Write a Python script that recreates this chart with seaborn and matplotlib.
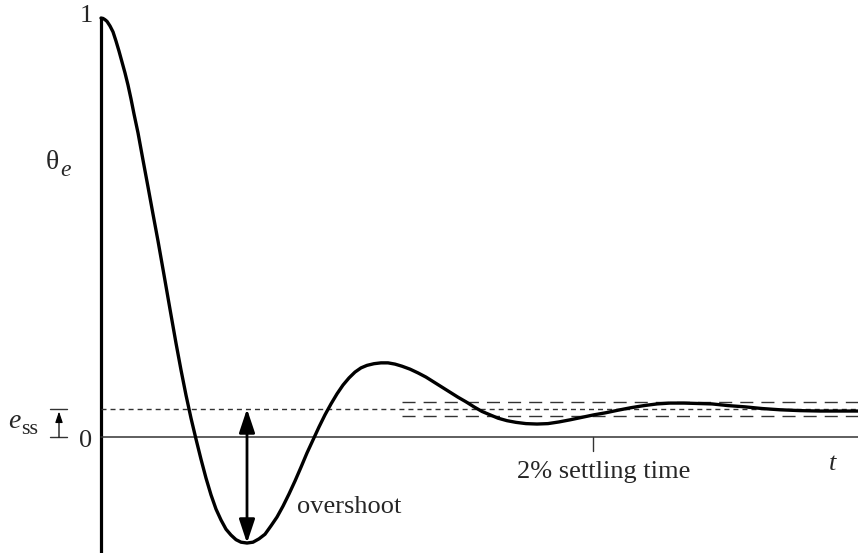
import numpy as np
import seaborn as sns
import matplotlib.pyplot as plt

# curve (t in arbitrary time units, theta_e normalised to 1 at t=0)
t = [0, 2, 4, 6, 9, 12, 15, 18, 21, 24,
     27, 30, 33, 37, 42, 47, 52, 57, 63, 69,
     75, 80, 85, 90, 95, 100, 105, 110, 115, 120,
     125, 130, 135, 140, 146, 152, 158, 164, 170, 176,
     182, 188, 194, 200, 206, 212, 218, 224, 230, 236,
     242, 248, 254, 260, 266, 273, 280, 287, 294, 301,
     309, 317, 325, 333, 341, 349, 357, 365, 373, 381,
     389, 397, 406, 415, 425, 436, 447, 458, 469, 481,
     493, 505, 517, 530, 543, 556, 569, 583, 597, 611,
     627, 644, 661, 679, 699, 719, 739, 757]
theta = [1.000, 0.999, 0.996, 0.992, 0.981, 0.967, 0.945, 0.921, 0.895, 0.869,
         0.840, 0.807, 0.771, 0.726, 0.661, 0.597, 0.532, 0.468, 0.387, 0.305,
         0.224, 0.160, 0.100, 0.045, -0.005, -0.053, -0.098, -0.138, -0.172, -0.198,
         -0.220, -0.234, -0.245, -0.251, -0.253, -0.251, -0.243, -0.232, -0.212, -0.191,
         -0.165, -0.136, -0.105, -0.072, -0.038, -0.007, 0.024, 0.053, 0.079, 0.103,
         0.124, 0.141, 0.155, 0.165, 0.171, 0.175, 0.177, 0.177, 0.174, 0.169,
         0.162, 0.153, 0.143, 0.131, 0.119, 0.107, 0.095, 0.084, 0.072, 0.061,
         0.053, 0.045, 0.039, 0.035, 0.032, 0.031, 0.032, 0.036, 0.041, 0.047,
         0.053, 0.058, 0.064, 0.070, 0.075, 0.079, 0.081, 0.081, 0.080, 0.079,
         0.075, 0.072, 0.068, 0.065, 0.063, 0.062, 0.062, 0.062]

e_ss = 0.067
band = 0.017
band_start = 301
t_settle = 492
t_min = 146
theta_min = -0.253

sns.set_style("white")
plt.rcParams['font.family'] = ['Liberation Serif', 'DejaVu Serif']

fig = plt.figure(figsize=(8.58, 5.53), dpi=100)
ax = fig.add_axes([0, 0, 1, 1])
ax.set_xlim(-101, 757)
ax.set_ylim(-0.2768, 1.043)
ax.axis('off')

# axes drawn by hand
ax.plot([0, 0], [1.0, -0.2768], color='k', lw=2.3, solid_capstyle='butt')
ax.plot([0, 757], [0, 0], color='#333333', lw=1.1)
ax.plot([t_settle, t_settle], [0, -0.034], color='#333333', lw=1.0)

# steady state error and 2% band
ax.plot([0, 757], [e_ss, e_ss], color='#333333', lw=1.0, dashes=(3.6, 2.9))
for lvl in (e_ss + band, e_ss - band):
    ax.plot([band_start, 757], [lvl, lvl], color='#333333', lw=1.0, dashes=(9.4, 5.8))

sns.lineplot(x=t, y=theta, ax=ax, color='k', lw=2.4)

# overshoot arrow
ax.annotate('', xy=(t_min, e_ss), xytext=(t_min, theta_min),
            arrowprops=dict(arrowstyle='<|-|>,head_length=0.72,head_width=0.24',
                            mutation_scale=20, lw=2, color='k',
                            shrinkA=0, shrinkB=0))
ax.text(196, -0.181, 'overshoot', fontsize=19, ha='left', va='baseline')

# e_ss bracket
for lvl in (0, e_ss):
    ax.plot([-51, -34], [lvl, lvl], color='#333333', lw=1.0)
ax.annotate('', xy=(-42, e_ss - 0.006), xytext=(-42, 0),
            arrowprops=dict(arrowstyle='-|>,head_length=0.65,head_width=0.22',
                            mutation_scale=10, lw=0.9, color='k',
                            shrinkA=0, shrinkB=0))
ax.text(-93, 0.0215, 'e', fontsize=20, style='italic', ha='left', va='baseline')
ax.text(-80, 0.007, 'ss', fontsize=16, ha='left', va='baseline')

# labels
ax.text(-8, 0.990, '1', fontsize=19, ha='right', va='baseline')
ax.text(-9, -0.024, '0', fontsize=19, ha='right', va='baseline')
ax.text(-55, 0.640, 'θ', fontsize=20, ha='left', va='baseline')
ax.text(-41, 0.623, 'e', fontsize=17, style='italic', ha='left', va='baseline')
ax.text(732, -0.079, 't', fontsize=19, style='italic', ha='center', va='baseline')
ax.text(503, -0.098, '2% settling time', fontsize=19, ha='center', va='baseline')

fig.savefig('out.png', dpi=100)
